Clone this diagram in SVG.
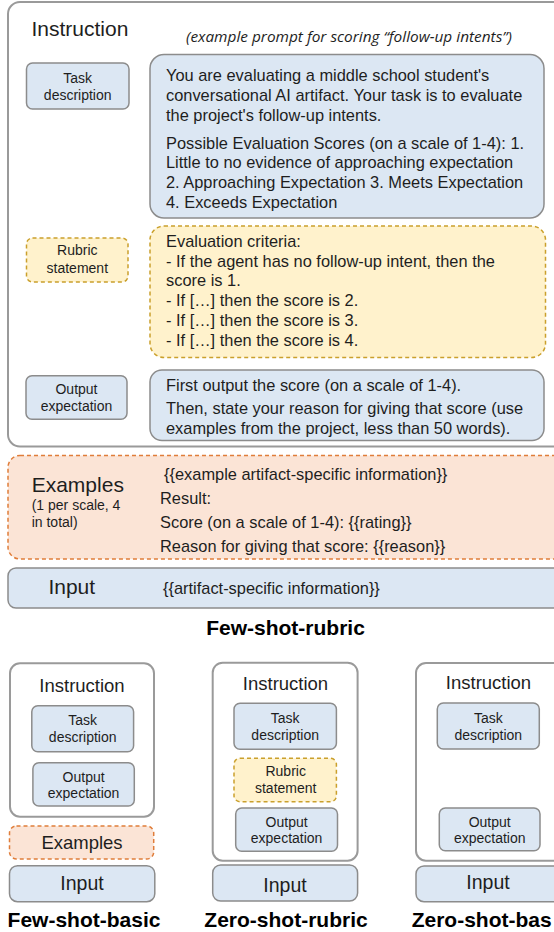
<svg xmlns="http://www.w3.org/2000/svg" width="554" height="932" viewBox="0 0 554 932">
<style>
.bg{fill:#ffffff}
.outer{fill:#ffffff;stroke:#9a9a9a;stroke-width:2}
.blue{fill:#dce7f3;stroke:#8c8c8c;stroke-width:1.5}
.yellow{fill:#fff2cc;stroke:#caa02c;stroke-width:1.5;stroke-dasharray:4 3}
.orange{fill:#fbe4d6;stroke:#e07d3a;stroke-width:1.5;stroke-dasharray:4 3}
text{font-family:"Liberation Sans",Arial,sans-serif;fill:#1e1e1e}
.lbl{font-size:14px;text-anchor:middle}
.body{font-size:16.4px}
.h{font-size:21px}
.hs{font-size:18.5px;text-anchor:middle}
.title{font-size:21px;font-weight:bold;fill:#000}
.sub{font-size:14px}
.it{font-family:"Open Sans","Liberation Sans",sans-serif;font-style:italic;font-size:14.5px}
</style>
<rect class="bg" x="0" y="0" width="554" height="932"/>
<g id="connectors"/>

<g id="fsr-instruction">
<rect class="outer" x="8" y="2" width="570" height="444.5" rx="12"/>
<text class="h" x="31.5" y="36">Instruction</text>
<text class="it" x="186" y="42" textLength="326" lengthAdjust="spacingAndGlyphs">(example prompt for scoring “follow-up intents”)</text>
</g>

<g id="fsr-task-label">
<rect class="blue" x="26.5" y="63" width="102.5" height="46" rx="6"/>
<text class="lbl" x="77.7" y="82.7">Task</text>
<text class="lbl" x="77.7" y="100">description</text>
</g>

<g id="fsr-task-text">
<rect class="blue" x="150" y="54.5" width="394" height="163.5" rx="14"/>
<text class="body" x="166" y="81">You are evaluating a middle school student's</text>
<text class="body" x="166" y="100.8">conversational AI artifact. Your task is to evaluate</text>
<text class="body" x="166" y="120.6">the project's follow-up intents.</text>
<text class="body" x="166" y="148.8">Possible Evaluation Scores (on a scale of 1-4): 1.</text>
<text class="body" x="166" y="168.4">Little to no evidence of approaching expectation</text>
<text class="body" x="166" y="188">2. Approaching Expectation 3. Meets Expectation</text>
<text class="body" x="166" y="207.6">4. Exceeds Expectation</text>
</g>

<g id="fsr-rubric-label">
<rect class="yellow" x="26.5" y="238" width="101.5" height="44" rx="6"/>
<text class="lbl" x="77.3" y="255.3">Rubric</text>
<text class="lbl" x="77.3" y="272.7">statement</text>
</g>

<g id="fsr-rubric-text">
<rect class="yellow" x="150" y="226" width="395.5" height="131.5" rx="14"/>
<text class="body" x="166" y="247.3">Evaluation criteria:</text>
<text class="body" x="166" y="266.8">- If the agent has no follow-up intent, then the</text>
<text class="body" x="166" y="286.4">score is 1.</text>
<text class="body" x="166" y="306">- If […] then the score is 2.</text>
<text class="body" x="166" y="325.8">- If […] then the score is 3.</text>
<text class="body" x="166" y="345.5">- If […] then the score is 4.</text>
</g>

<g id="fsr-output-label">
<rect class="blue" x="26" y="375.7" width="101" height="43.6" rx="6"/>
<text class="lbl" x="76.5" y="394.3">Output</text>
<text class="lbl" x="76.5" y="411">expectation</text>
</g>

<g id="fsr-output-text">
<rect class="blue" x="150" y="370" width="394" height="70.5" rx="12"/>
<text class="body" x="166" y="390.7">First output the score (on a scale of 1-4).</text>
<text class="body" x="166" y="414">Then, state your reason for giving that score (use</text>
<text class="body" x="166" y="433.5">examples from the project, less than 50 words).</text>
</g>

<g id="fsr-examples">
<rect class="orange" x="8" y="455.5" width="570" height="103.5" rx="12"/>
<text class="h" x="31.7" y="491.7">Examples</text>
<text class="sub" x="31.7" y="510">(1 per scale, 4</text>
<text class="sub" x="31.7" y="527">in total)</text>
<text class="body" x="164" y="480">{{example artifact-specific information}}</text>
<text class="body" x="160" y="504">Result:</text>
<text class="body" x="160" y="527.7">Score (on a scale of 1-4): {{rating}}</text>
<text class="body" x="160" y="551.7">Reason for giving that score: {{reason}}</text>
</g>

<g id="fsr-input">
<rect class="blue" x="8" y="568" width="570" height="40" rx="8"/>
<text class="h" x="48.4" y="594">Input</text>
<text class="body" x="163" y="594">{{artifact-specific information}}</text>
</g>

<g id="fsr-title">
<text class="title" x="285.5" y="635" text-anchor="middle">Few-shot-rubric</text>
</g>

<g id="fsb-instruction">
<rect class="outer" x="10" y="663.3" width="144" height="153.4" rx="10"/>
<text class="hs" x="82" y="691.7">Instruction</text>
</g>
<g id="fsb-task">
<rect class="blue" x="31.8" y="705.7" width="101.8" height="46" rx="6"/>
<text class="lbl" x="82.7" y="725">Task</text>
<text class="lbl" x="82.7" y="741.7">description</text>
</g>
<g id="fsb-output">
<rect class="blue" x="32.9" y="762.7" width="101.4" height="43.3" rx="6"/>
<text class="lbl" x="83.6" y="781.7">Output</text>
<text class="lbl" x="83.6" y="797.7">expectation</text>
</g>
<g id="fsb-examples">
<rect class="orange" x="9.5" y="826" width="144.2" height="33" rx="7"/>
<text class="hs" x="82" y="849">Examples</text>
</g>
<g id="fsb-input">
<rect class="blue" x="9.5" y="865.7" width="145.3" height="36" rx="8"/>
<text class="hs" x="82" y="890" style="font-size:19.5px">Input</text>
</g>
<g id="fsb-title">
<text class="title" x="84" y="927.3" text-anchor="middle">Few-shot-basic</text>
</g>

<g id="zsr-instruction">
<rect class="outer" x="212.7" y="662.7" width="144.9" height="198" rx="10"/>
<text class="hs" x="285.5" y="690">Instruction</text>
</g>
<g id="zsr-task">
<rect class="blue" x="234" y="703.3" width="102.4" height="46" rx="6"/>
<text class="lbl" x="285.2" y="723.3">Task</text>
<text class="lbl" x="285.2" y="740">description</text>
</g>
<g id="zsr-rubric">
<rect class="yellow" x="234" y="758.3" width="102.4" height="43.4" rx="6"/>
<text class="lbl" x="285.7" y="776">Rubric</text>
<text class="lbl" x="285.7" y="792.7">statement</text>
</g>
<g id="zsr-output">
<rect class="blue" x="235.7" y="808" width="101.8" height="43.3" rx="6"/>
<text class="lbl" x="286.6" y="826.7">Output</text>
<text class="lbl" x="286.6" y="843.3">expectation</text>
</g>
<g id="zsr-input">
<rect class="blue" x="212.7" y="865" width="144.9" height="36" rx="8"/>
<text class="hs" x="285" y="891.7" style="font-size:19.5px">Input</text>
</g>
<g id="zsr-title">
<text class="title" x="286" y="927.3" text-anchor="middle">Zero-shot-rubric</text>
</g>

<g id="zsb-instruction">
<rect class="outer" x="416" y="663" width="160" height="197.7" rx="10"/>
<text class="hs" x="488.5" y="688.5">Instruction</text>
</g>
<g id="zsb-task">
<rect class="blue" x="437.3" y="703" width="102" height="46" rx="6"/>
<text class="lbl" x="488.3" y="722.7">Task</text>
<text class="lbl" x="488.3" y="739.7">description</text>
</g>
<g id="zsb-output">
<rect class="blue" x="439.3" y="808" width="100.7" height="42.7" rx="6"/>
<text class="lbl" x="489.7" y="826.7">Output</text>
<text class="lbl" x="489.7" y="843.3">expectation</text>
</g>
<g id="zsb-input">
<rect class="blue" x="416" y="866" width="160" height="35.7" rx="8"/>
<text class="hs" x="488" y="888.5" style="font-size:19.5px">Input</text>
</g>
<g id="zsb-title">
<text class="title" x="411.7" y="926.7">Zero-shot-bas</text>
</g>
</svg>
